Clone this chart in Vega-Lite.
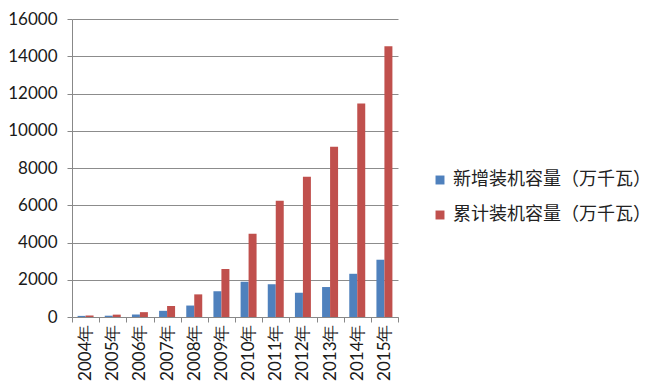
{
  "$schema": "https://vega.github.io/schema/vega-lite/v6.json",
  "width": 326,
  "height": 298,
  "autosize": {"type": "none"},
  "padding": {"left": 72, "top": 19, "right": 267, "bottom": 71},
  "background": "#ffffff",
  "data": {
    "values": [
      {"year": "2004年", "series": "新增装机容量（万千瓦）", "value": 60},
      {"year": "2004年", "series": "累计装机容量（万千瓦）", "value": 76},
      {"year": "2005年", "series": "新增装机容量（万千瓦）", "value": 70},
      {"year": "2005年", "series": "累计装机容量（万千瓦）", "value": 127},
      {"year": "2006年", "series": "新增装机容量（万千瓦）", "value": 134},
      {"year": "2006年", "series": "累计装机容量（万千瓦）", "value": 260},
      {"year": "2007年", "series": "新增装机容量（万千瓦）", "value": 331},
      {"year": "2007年", "series": "累计装机容量（万千瓦）", "value": 591},
      {"year": "2008年", "series": "新增装机容量（万千瓦）", "value": 615},
      {"year": "2008年", "series": "累计装机容量（万千瓦）", "value": 1215},
      {"year": "2009年", "series": "新增装机容量（万千瓦）", "value": 1380},
      {"year": "2009年", "series": "累计装机容量（万千瓦）", "value": 2580},
      {"year": "2010年", "series": "新增装机容量（万千瓦）", "value": 1893},
      {"year": "2010年", "series": "累计装机容量（万千瓦）", "value": 4473},
      {"year": "2011年", "series": "新增装机容量（万千瓦）", "value": 1763},
      {"year": "2011年", "series": "累计装机容量（万千瓦）", "value": 6236},
      {"year": "2012年", "series": "新增装机容量（万千瓦）", "value": 1296},
      {"year": "2012年", "series": "累计装机容量（万千瓦）", "value": 7532},
      {"year": "2013年", "series": "新增装机容量（万千瓦）", "value": 1609},
      {"year": "2013年", "series": "累计装机容量（万千瓦）", "value": 9141},
      {"year": "2014年", "series": "新增装机容量（万千瓦）", "value": 2320},
      {"year": "2014年", "series": "累计装机容量（万千瓦）", "value": 11460},
      {"year": "2015年", "series": "新增装机容量（万千瓦）", "value": 3075},
      {"year": "2015年", "series": "累计装机容量（万千瓦）", "value": 14536}
    ]
  },
  "mark": {"type": "bar"},
  "encoding": {
    "x": {
      "field": "year",
      "type": "nominal",
      "sort": null,
      "title": null,
      "scale": {"paddingInner": 0, "paddingOuter": 0},
      "axis": {
        "labelAngle": -90,
        "labelAlign": "right",
        "labelBaseline": "middle",
        "labelFont": "Lato",
        "labelFontSize": 17,
        "labelColor": "#1a1a1a",
        "labelPadding": 2,
        "tickBand": "extent",
        "tickSize": 5,
        "tickColor": "#888888",
        "domainColor": "#888888",
        "grid": false
      }
    },
    "xOffset": {
      "field": "series",
      "type": "nominal",
      "sort": null,
      "scale": {"paddingInner": 0, "paddingOuter": 0.7}
    },
    "y": {
      "field": "value",
      "type": "quantitative",
      "title": null,
      "scale": {"domain": [0, 16000], "nice": false},
      "axis": {
        "values": [0, 2000, 4000, 6000, 8000, 10000, 12000, 14000, 16000],
        "format": "d",
        "labelFont": "Lato",
        "labelFontSize": 17,
        "labelColor": "#1a1a1a",
        "labelPadding": 10,
        "tickSize": 5,
        "tickColor": "#888888",
        "domainColor": "#888888",
        "gridColor": "#8c8c8c",
        "gridWidth": 1
      }
    },
    "color": {
      "field": "series",
      "type": "nominal",
      "sort": null,
      "scale": {"range": ["#4F81BD", "#C0504D"]},
      "legend": {
        "title": null,
        "orient": "none",
        "legendX": 359,
        "legendY": 152,
        "symbolType": "square",
        "symbolSize": 80,
        "symbolStrokeWidth": 0,
        "labelFont": "Noto Sans CJK SC",
        "labelFontSize": 18,
        "labelColor": "#222222",
        "labelOffset": 4,
        "rowPadding": 17,
        "labelLimit": 300
      }
    }
  },
  "config": {
    "view": {"stroke": null}
  }
}
